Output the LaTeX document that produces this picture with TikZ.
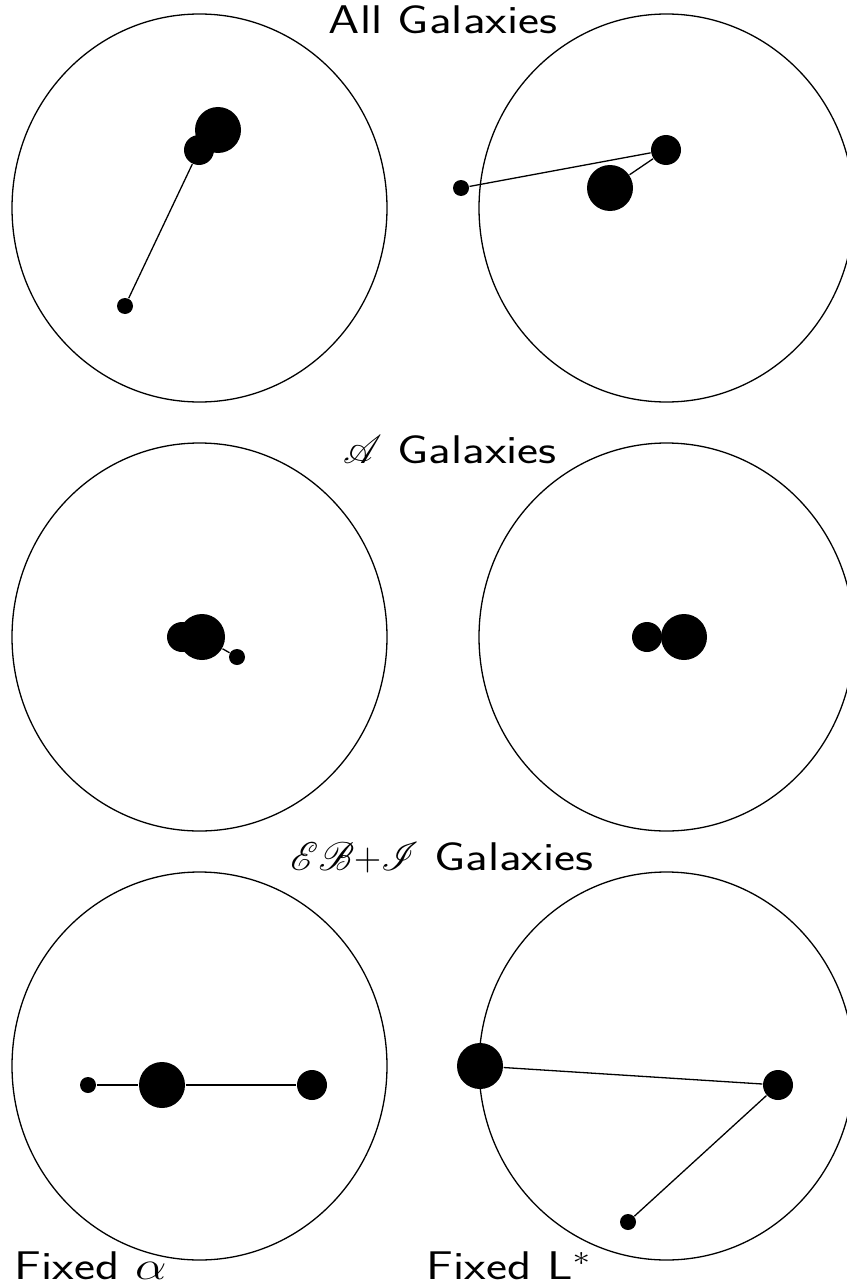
\RequirePackage{fix-cm}
\documentclass[tikz,border=0pt]{standalone}
\usepackage{mathrsfs}
\DeclareFontFamily{U}{rsfs}{\skewchar\font127 }
\DeclareFontShape{U}{rsfs}{m}{n}{<-> rsfs10}{}
\newcommand{\scr}[1]{\scalebox{0.75}[1]{$\mathscr{#1}$}}
\tikzset{
  ring/.style={line width=1.3pt},
  bigdot/.style={circle,fill,inner sep=0pt,minimum size=46pt},
  middot/.style={circle,fill,inner sep=0pt,minimum size=30pt},
  smalldot/.style={circle,fill,inner sep=0pt,minimum size=16pt},
  lbl/.style={font=\fontsize{40}{44}\selectfont\sffamily,xscale=1.25}
}
\begin{document}
\begin{tikzpicture}[x=1pt,y=-1pt,line width=1.3pt]
  \useasboundingbox (0,0) rectangle (846,1287);
  % rings
  \foreach \cy in {208,637,1066} {
    \draw[ring] (199.5,\cy) ellipse[x radius=187.5,y radius=194];
    \draw[ring] (666.5,\cy) ellipse[x radius=187.5,y radius=194];
  }
  % titles
  \node[lbl] (tall) at (443,20) {All Galaxies};
  \node[lbl] (tA) at (450,450) {\scr{A} Galaxies};
  \node[lbl] (tEBI) at (442,858) {\scr{E}\scr{B}\scalebox{0.75}[1]{$+$}\scr{I} Galaxies};
  \node[lbl,anchor=west] (fa) at (10,1266) {Fixed $\alpha$};
  \node[lbl,anchor=west] (fl) at (422,1266) {Fixed L$^*$};
  % all galaxies
  \node[bigdot] (a1) at (218,130) {};
  \node[middot] (m1) at (199,150) {};
  \node[smalldot] (s1) at (125,306) {};
  \draw (s1) -- (m1);
  \node[smalldot] (s2) at (461,188) {};
  \node[middot] (m2) at (666,150) {};
  \node[bigdot] (a2) at (610,188) {};
  \draw (s2) -- (m2) -- (a2);
  % A galaxies
  \node[middot] (m3) at (182,637) {};
  \node[bigdot] (a3) at (202,637) {};
  \node[smalldot] (s3) at (237,657) {};
  \draw (a3) -- (s3);
  \node[middot] (m4) at (647,637) {};
  \node[bigdot] (a4) at (684,637) {};
  % EB+I galaxies
  \node[smalldot] (s5) at (88,1085) {};
  \node[bigdot] (a5) at (162,1085) {};
  \node[middot] (m5) at (312,1085) {};
  \draw (s5) -- (a5) -- (m5);
  \node[bigdot] (a6) at (480,1066) {};
  \node[middot] (m6) at (778,1085) {};
  \node[smalldot] (s6) at (628,1222) {};
  \draw (a6) -- (m6) -- (s6);
\end{tikzpicture}
\end{document}
